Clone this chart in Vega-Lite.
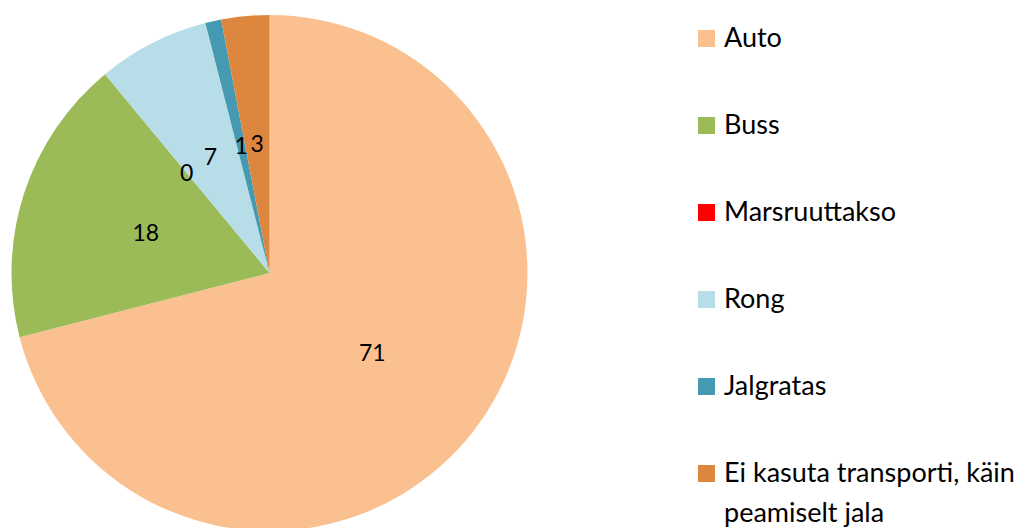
{
  "$schema": "https://vega.github.io/schema/vega-lite/v6.json",
  "width": 519,
  "height": 510,
  "autosize": {"type": "none"},
  "padding": {"left": 10, "top": 18, "right": 491, "bottom": 0},
  "background": "white",
  "data": {
    "values": [
      {"mode": "Auto", "value": 71, "order": 1},
      {"mode": "Buss", "value": 18, "order": 2},
      {"mode": "Marsruuttakso", "value": 0, "order": 3},
      {"mode": "Rong", "value": 7, "order": 4},
      {"mode": "Jalgratas", "value": 1, "order": 5},
      {"mode": "Ei kasuta transporti, käin peamiselt jala", "value": 3, "order": 6}
    ]
  },
  "encoding": {
    "theta": {"field": "value", "type": "quantitative", "stack": true},
    "order": {"field": "order", "type": "quantitative"},
    "color": {
      "field": "mode",
      "type": "nominal",
      "scale": {
        "domain": ["Auto", "Buss", "Marsruuttakso", "Rong", "Jalgratas", "Ei kasuta transporti, käin peamiselt jala"],
        "range": ["#FAC090", "#9BBB59", "#FF0000", "#B7DEE8", "#4599B0", "#DD873E"]
      },
      "legend": {
        "title": null,
        "orient": "none",
        "legendX": 683,
        "legendY": 7,
        "direction": "vertical",
        "symbolType": "square",
        "symbolSize": 289,
        "symbolStrokeWidth": 0,
        "labelFont": "Lato",
        "labelFontSize": 27,
        "labelColor": "#000000",
        "labelOffset": 4,
        "labelLimit": 400,
        "rowPadding": 59,
        "labelExpr": "datum.label == 'Ei kasuta transporti, käin peamiselt jala' ? ['Ei kasuta transporti, käin', 'peamiselt jala'] : datum.label",
        "encode": {"labels": {"update": {"lineHeight": {"value": 40}}}}
      }
    }
  },
  "layer": [
    {
      "mark": {"type": "arc", "outerRadius": 258}
    },
    {
      "mark": {"type": "text", "radius": 130, "font": "Lato", "fontSize": 23, "color": "#000000", "dy": 1},
      "encoding": {
        "text": {"field": "value", "type": "quantitative"},
        "color": {"value": "#000000"}
      }
    }
  ],
  "config": {"view": {"stroke": null}}
}
